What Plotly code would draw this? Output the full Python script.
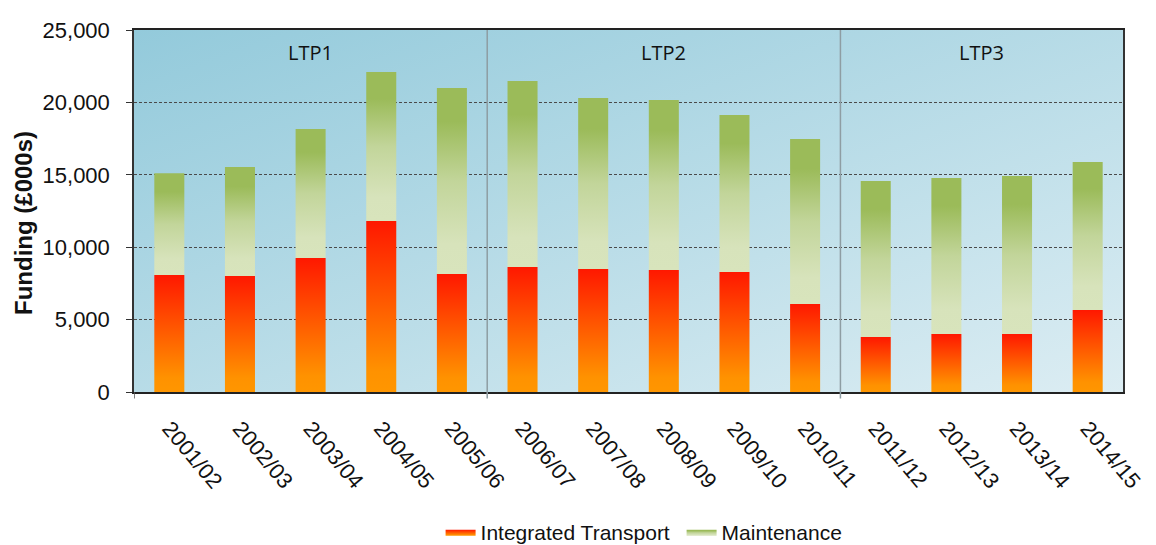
import base64
import plotly.graph_objects as go

# ---- data ----
years = ["2001/02", "2002/03", "2003/04", "2004/05", "2005/06", "2006/07", "2007/08",
         "2008/09", "2009/10", "2010/11", "2011/12", "2012/13", "2013/14", "2014/15"]
integrated_transport = [8080, 8010, 9250, 11810, 8150, 8630, 8490, 8430, 8290, 6080, 3800, 4000, 4000, 5660]
maintenance = [7020, 7530, 8910, 10290, 12850, 12850, 11810, 11740, 10840, 11390, 10770, 10780, 10920, 10220]
periods = ["LTP1", "LTP2", "LTP3"]
period_sizes = [5, 5, 4]
y_ticks = [0, 5000, 10000, 15000, 20000, 25000]

# ---- style ----
BAR_W = 0.425
red_scale = [[0, "#ff9600"], [0.12, "#ff9200"], [1, "#ff1800"]]
green_scale = [[0, "#d8e4bc"], [0.16, "#d7e3bb"], [0.5, "#c2d59a"], [0.82, "#9bbb59"], [1, "#9bbb59"]]

fig = go.Figure()

series = [
    ("Integrated Transport", integrated_transport, red_scale, "#ff5a00"),
    ("Maintenance", maintenance, green_scale, "#b5cc86"),
]
bases = [0] * len(years)
for name, vals, cscale, mid in series:
    for i, (yr, v) in enumerate(zip(years, vals)):
        b = bases[i]
        t = b + v
        xs = [i - BAR_W / 2, i + BAR_W / 2, i + BAR_W / 2, i - BAR_W / 2, i - BAR_W / 2]
        ys = [b, b, t, t, b]
        fig.add_trace(go.Scatter(
            x=xs, y=ys, mode="lines", fill="toself",
            line=dict(width=0, color=mid),
            fillcolor=mid,
            fillgradient=dict(type="vertical", colorscale=cscale, start=b, stop=t),
            name=name, legendgroup=name, showlegend=(i == 0),
            hoveron="fills", text=f"{name} {yr}: {v:,}", hoverinfo="text",
        ))
    bases = [bases[i] + vals[i] for i in range(len(years))]

# background gradient image for the plot area
svg = ('<svg xmlns="http://www.w3.org/2000/svg" width="100" height="100" preserveAspectRatio="none" '
       'viewBox="0 0 100 100"><defs><linearGradient id="g" x1="0" y1="0" x2="1" y2="1">'
       '<stop offset="0" stop-color="#93cadb"/><stop offset="1" stop-color="#dcedf3"/>'
       '</linearGradient></defs><rect width="100" height="100" fill="url(#g)"/></svg>')
src = "data:image/svg+xml;base64," + base64.b64encode(svg.encode()).decode()

shapes = []
annotations = []
start = 0
for k, (p, n) in enumerate(zip(periods, period_sizes)):
    left = start - 0.5
    # separator / tick at group boundary
    shapes.append(dict(type="line", xref="x", yref="paper", x0=left, x1=left,
                       y0=-0.018, y1=1 if k > 0 else 0,
                       line=dict(color="#8e9da3" if k > 0 else "#555555", width=1.5)))
    annotations.append(dict(x=start + (n - 1) / 2, y=0.9365, xref="x", yref="paper",
                            text=p, showarrow=False, yanchor="middle", xanchor="center",
                            font=dict(family="Open Sans", size=20, color="#111111")))
    start += n

# y-axis title
annotations.append(dict(x=-0.1112, y=0.467, xref="paper", yref="paper",
                        text="<b>Funding (£000s)</b>", textangle=-90, showarrow=False,
                        xanchor="center", yanchor="middle",
                        font=dict(family="Liberation Sans", size=24, color="#111111")))

# page body has an 8px margin, so the figure is 8px smaller than the window
fig.update_layout(
    width=1148, height=537,
    margin=dict(l=126, r=33, t=22, b=153, autoexpand=False),
    paper_bgcolor="white",
    plot_bgcolor="rgba(0,0,0,0)",
    images=[dict(source=src, xref="paper", yref="paper", x=0, y=1, sizex=1, sizey=1,
                 sizing="stretch", layer="below", xanchor="left", yanchor="top")],
    shapes=shapes,
    annotations=annotations,
    showlegend=True,
    legend=dict(orientation="h", x=0.31, xanchor="left", y=-0.387, yanchor="middle",
                font=dict(family="Liberation Sans", size=21, color="#111111"),
                itemwidth=30, entrywidth=196, entrywidthmode="pixels",
                bgcolor="rgba(0,0,0,0)"),
    font=dict(family="Liberation Sans", color="#111111"),
)

fig.update_xaxes(
    range=[-0.5, len(years) - 0.5],
    tickmode="array", tickvals=list(range(len(years))), ticktext=years,
    tickangle=50, tickfont=dict(family="Liberation Sans", size=22, color="#111111"),
    ticks="", showgrid=False, zeroline=False,
    showline=True, linecolor="#222222", linewidth=1.5, mirror=True,
    ticklabelstandoff=13, fixedrange=True,
)
fig.update_yaxes(
    range=[0, 25000], tickmode="array", tickvals=y_ticks, tickformat=",",
    tickfont=dict(family="Liberation Sans", size=22, color="#111111"),
    ticks="outside", ticklen=6, tickcolor="#333333",
    showgrid=True, gridcolor="#4a4a4a", gridwidth=1, griddash="3px,2px",
    zeroline=False, showline=True, linecolor="#333333", linewidth=1.5, mirror=True,
    ticklabelstandoff=12, fixedrange=True,
)

fig.write_html("out.html")
